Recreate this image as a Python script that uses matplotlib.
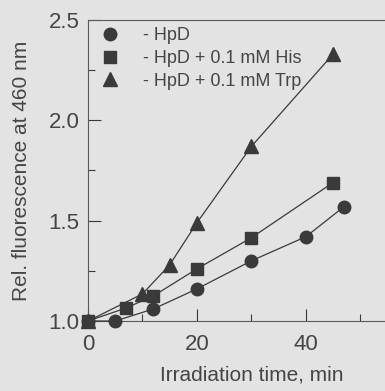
import matplotlib
matplotlib.use('Agg')
import matplotlib.pyplot as plt
from matplotlib.lines import Line2D
from matplotlib.ticker import FixedLocator, MultipleLocator

plt.rcParams['font.family'] = ['Liberation Sans', 'DejaVu Sans']

# data
t_hpd = [0, 5, 12, 20, 30, 40, 47]
f_hpd = [1.0, 1.0, 1.06, 1.16, 1.30, 1.42, 1.57]

t_his = [0, 7, 12, 20, 30, 45]
f_his = [1.0, 1.065, 1.125, 1.26, 1.415, 1.69]

t_trp = [0, 10, 15, 20, 30, 45]
f_trp = [1.0, 1.135, 1.28, 1.49, 1.87, 2.33]

labels = ['- HpD', '- HpD + 0.1 mM His', '- HpD + 0.1 mM Trp']
x_major = [0, 20, 40]
x_minor = [10, 30, 50]

bg = '#e3e3e3'
ink = '#3a3a3a'
txt = '#454545'

fig = plt.figure(figsize=(3.85, 3.91), dpi=100, facecolor=bg)
ax = fig.add_axes([0.2286, 0.179, 0.849, 0.77], facecolor=bg)

series = [(t_hpd, f_hpd, 'o', 9.0), (t_his, f_his, 's', 8.5), (t_trp, f_trp, '^', 10.0)]
for t, f, mk, ms in series:
    ax.plot(t, f, color=ink, lw=0.9, marker=mk, ms=ms, clip_on=False, zorder=3)

ax.set_xlim(0, 60)
ax.set_ylim(1.0, 2.5)
ax.xaxis.set_major_locator(FixedLocator(x_major))
ax.xaxis.set_minor_locator(FixedLocator(x_minor))
ax.yaxis.set_major_locator(MultipleLocator(0.5))
ax.yaxis.set_minor_locator(MultipleLocator(0.25))
ax.yaxis.set_major_formatter(plt.FormatStrFormatter('%.1f'))
ax.tick_params(which='both', direction='in', colors=ink, labelcolor=txt, labelsize=16, width=0.8)
ax.tick_params(which='major', length=9)
ax.tick_params(which='minor', length=5)
ax.tick_params(axis='x', which='major', pad=9)
ax.tick_params(axis='y', which='major', pad=6)
for s in ax.spines.values():
    s.set_color('#5a5a5a')
    s.set_linewidth(0.8)

ax.set_xlabel('Irradiation time, min', fontsize=15, color=txt, labelpad=8)
ax.set_ylabel('Rel. fluorescence at 460 nm', fontsize=15, color=txt, labelpad=13)

handles = [Line2D([], [], ls='none', marker=mk, color=ink, ms=ms) for _, _, mk, ms in series]
ax.legend(handles, labels, loc='upper left', frameon=False, fontsize=13,
          labelcolor=txt, handlelength=1.6, handletextpad=1.05, borderaxespad=0.0,
          labelspacing=0.32, bbox_to_anchor=(0.0, 1.0))

fig.savefig('out.png', dpi=100, facecolor=bg)
